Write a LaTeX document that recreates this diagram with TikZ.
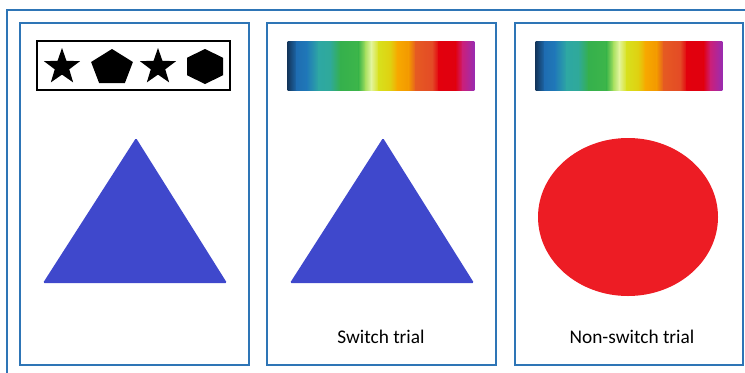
\documentclass[tikz,border=0pt]{standalone}
\usepackage{fontspec}
\setmainfont{Carlito}
\definecolor{framec}{RGB}{46,117,182}
\definecolor{triblue}{RGB}{63,72,204}
\definecolor{circred}{RGB}{237,28,36}
\definecolor{sA}{HTML}{13375E}
\definecolor{sB}{HTML}{1E6DB2}
\definecolor{sC}{HTML}{2079B8}
\definecolor{sD}{HTML}{2EA8A3}
\definecolor{sE}{HTML}{2FA99A}
\definecolor{sF}{HTML}{35B04C}
\definecolor{sG}{HTML}{3DB64A}
\definecolor{sH}{HTML}{A8E060}
\definecolor{sI}{HTML}{E3F5A0}
\definecolor{sJ}{HTML}{D8E01C}
\definecolor{sK}{HTML}{E0D010}
\definecolor{sL}{HTML}{F7A900}
\definecolor{sM}{HTML}{F39800}
\definecolor{sN}{HTML}{E55B22}
\definecolor{sO}{HTML}{E44A26}
\definecolor{sP}{HTML}{E2000D}
\definecolor{sQ}{HTML}{E0000F}
\definecolor{sR}{HTML}{CC1F78}
\definecolor{sS}{HTML}{9A2BB0}
\tikzset{
  panel/.style={draw=framec, line width=1.6pt},
  outerframe/.style={draw=framec, line width=1.4pt},
  caption/.style={font=\fontsize{14.5}{17}\selectfont, inner sep=0pt},
  starpic/.pic={\fill[black] (0,-19) -- (4.47,-6.15) -- (18.07,-5.87) -- (7.23,2.35) -- (11.17,15.37) -- (0,7.6) -- (-11.17,15.37) -- (-7.23,2.35) -- (-18.07,-5.87) -- (-4.47,-6.15) -- cycle;},
  pentpic/.pic={\fill[black] (0,-18.8) -- (20.9,-5.8) -- (12.9,15.2) -- (-12.9,15.2) -- (-20.9,-5.8) -- cycle;},
  hexpic/.pic={\fill[black] (0,-17.5) -- (18,-8.75) -- (18,8.75) -- (0,17.5) -- (-18,8.75) -- (-18,-8.75) -- cycle;},
  spectrum/.pic={
    \foreach \xa/\ca/\xb/\cb in {0/sA/9.0/sB, 9.0/sB/19.0/sC, 19.0/sC/30.7/sD, 30.7/sD/42.4/sE, 42.4/sE/52.4/sF, 52.4/sF/70.8/sG, 70.8/sG/77.5/sH, 77.5/sH/83.1/sI, 83.1/sI/90.8/sJ, 90.8/sJ/102.5/sK, 102.5/sK/109.2/sL, 109.2/sL/120.9/sM, 120.9/sM/127.6/sN, 127.6/sN/144.3/sO, 144.3/sO/150.9/sP, 150.9/sP/167.6/sQ, 167.6/sQ/174.3/sR, 174.3/sR/186/sS}
      {\shade[left color=\ca, right color=\cb] (\xa-0.3,0) rectangle (\xb+0.3,49);}
  }
}
\begin{document}
\begin{tikzpicture}[x=0.75pt, y=-0.75pt]
\useasboundingbox (0,0) rectangle (745,372);
% outer frame (partly outside the picture)
\draw[outerframe] (7,374) -- (7,10) -- (747,10);
% panels
\draw[panel] (20,23) rectangle (249,365);
\draw[panel] (267,23) rectangle (496,365);
\draw[panel] (515,23) rectangle (743,365);
% panel 1: shape sequence
\draw[black, line width=1.5pt] (37,41) rectangle (230,90);
\pic at (62,67) {starpic};
\pic at (112,67.8) {pentpic};
\pic at (158,67) {starpic};
\pic at (205,66.5) {hexpic};
\fill[triblue, rounded corners=1] (136,138) -- (227,283) -- (43,283) -- cycle;
% panel 2
\pic at (288,41) {spectrum};
\fill[triblue, rounded corners=1] (383,138) -- (474,283) -- (290,283) -- cycle;
\node[caption] (sw) at (381,337) {Switch trial};
% panel 3
\pic at (536,41) {spectrum};
\fill[circred] (628,217) ellipse [x radius=90, y radius=79];
\node[caption] (nsw) at (632,337) {Non-switch trial};
\end{tikzpicture}
\end{document}
